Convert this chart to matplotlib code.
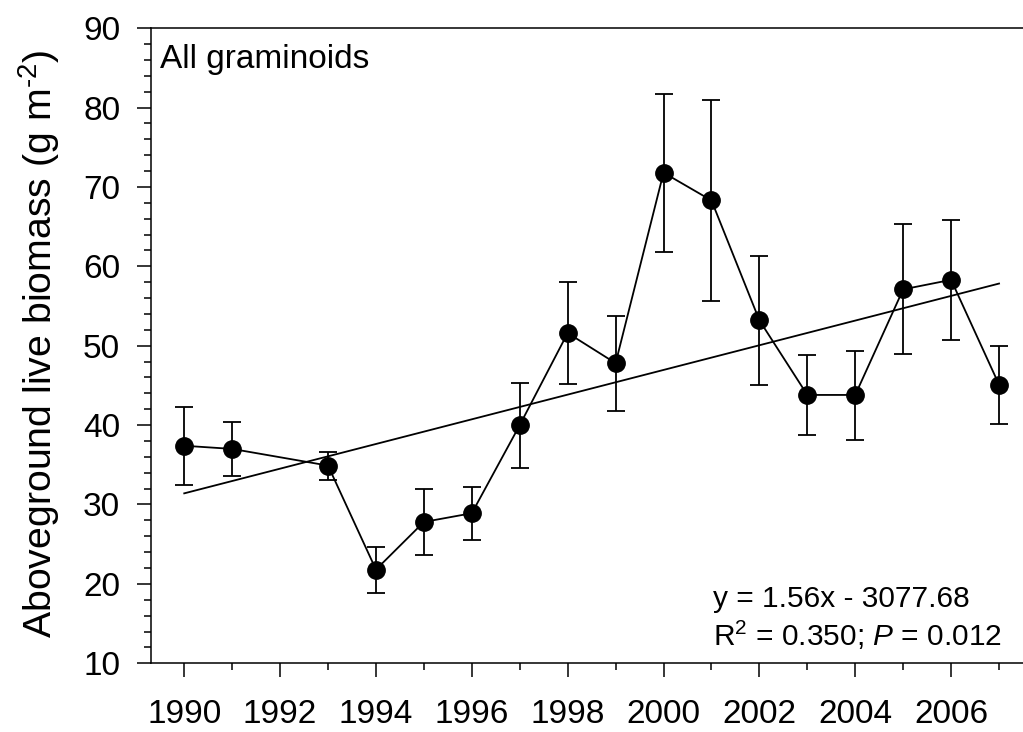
import numpy as np
import matplotlib.pyplot as plt
from matplotlib.ticker import MultipleLocator

plt.rcParams['font.family'] = ['Liberation Sans', 'DejaVu Sans']
plt.rcParams['mathtext.fontset'] = 'custom'
plt.rcParams['mathtext.rm'] = 'Liberation Sans'
plt.rcParams['mathtext.it'] = 'Liberation Sans:italic'

# yearly means and error bar ends
years = [1990, 1991, 1993, 1994, 1995, 1996, 1997, 1998, 1999,
         2000, 2001, 2002, 2003, 2004, 2005, 2006, 2007]
biomass = [37.4, 37.0, 34.9, 21.8, 27.8, 28.9, 40.0, 51.6, 47.8,
           71.8, 68.3, 53.2, 43.8, 43.8, 57.1, 58.3, 45.1]
upper = [42.3, 40.4, 36.6, 24.7, 32.0, 32.2, 45.3, 58.0, 53.8,
         81.7, 80.9, 61.3, 48.8, 49.3, 65.3, 65.9, 50.0]
lower = [32.4, 33.6, 33.1, 18.9, 23.6, 25.5, 34.6, 45.2, 41.8,
         61.8, 55.6, 45.1, 38.7, 38.1, 49.0, 50.7, 40.2]
eq_text = 'y = 1.56x - 3077.68'
stat_text = 'R$^2$ = 0.350; $P$ = 0.012'

years = np.array(years)
biomass = np.array(biomass)
err = [biomass - np.array(lower), np.array(upper) - biomass]

slope, intercept = np.polyfit(years, biomass, 1)
fit_x = np.array([years.min(), years.max()])
fit_y = slope * fit_x + intercept

fig = plt.figure(figsize=(10.23, 7.32), dpi=100)
ax = fig.add_axes([0.1473, 0.0939, 0.8527, 0.8676])

ax.plot(fit_x, fit_y, color='black', lw=1.3)
ax.errorbar(years, biomass, yerr=err, fmt='-o', color='black', ms=12.5,
            lw=1.3, elinewidth=1.3, capsize=6.5, capthick=1.3)

ax.set_xlim(1989.3, 2007.5)
ax.set_ylim(10, 90)
ax.xaxis.set_major_locator(MultipleLocator(2))
ax.xaxis.set_minor_locator(MultipleLocator(1))
ax.yaxis.set_major_locator(MultipleLocator(10))
ax.yaxis.set_minor_locator(MultipleLocator(2))
ax.tick_params(which='major', length=10, width=1.1, labelsize=24)
ax.tick_params(axis='x', which='major', pad=16)
ax.tick_params(axis='y', which='major', pad=12)
ax.tick_params(which='minor', length=5, width=1.1)
ax.spines['right'].set_visible(False)
for s in ['left', 'bottom', 'top']:
    ax.spines[s].set_linewidth(1.1)

ax.set_ylabel('Aboveground live biomass (g m$^{\u2010 2}$)', fontsize=28.3)
ax.yaxis.set_label_coords(-0.102, 0.503)

ax.text(0.011, 0.975, 'All graminoids', transform=ax.transAxes,
        fontsize=24, va='top', ha='left')
ax.text(0.645, 0.018, eq_text + '\n' + stat_text, transform=ax.transAxes,
        fontsize=21.5, va='bottom', ha='left', linespacing=1.2)

fig.savefig('out.png', dpi=100)
